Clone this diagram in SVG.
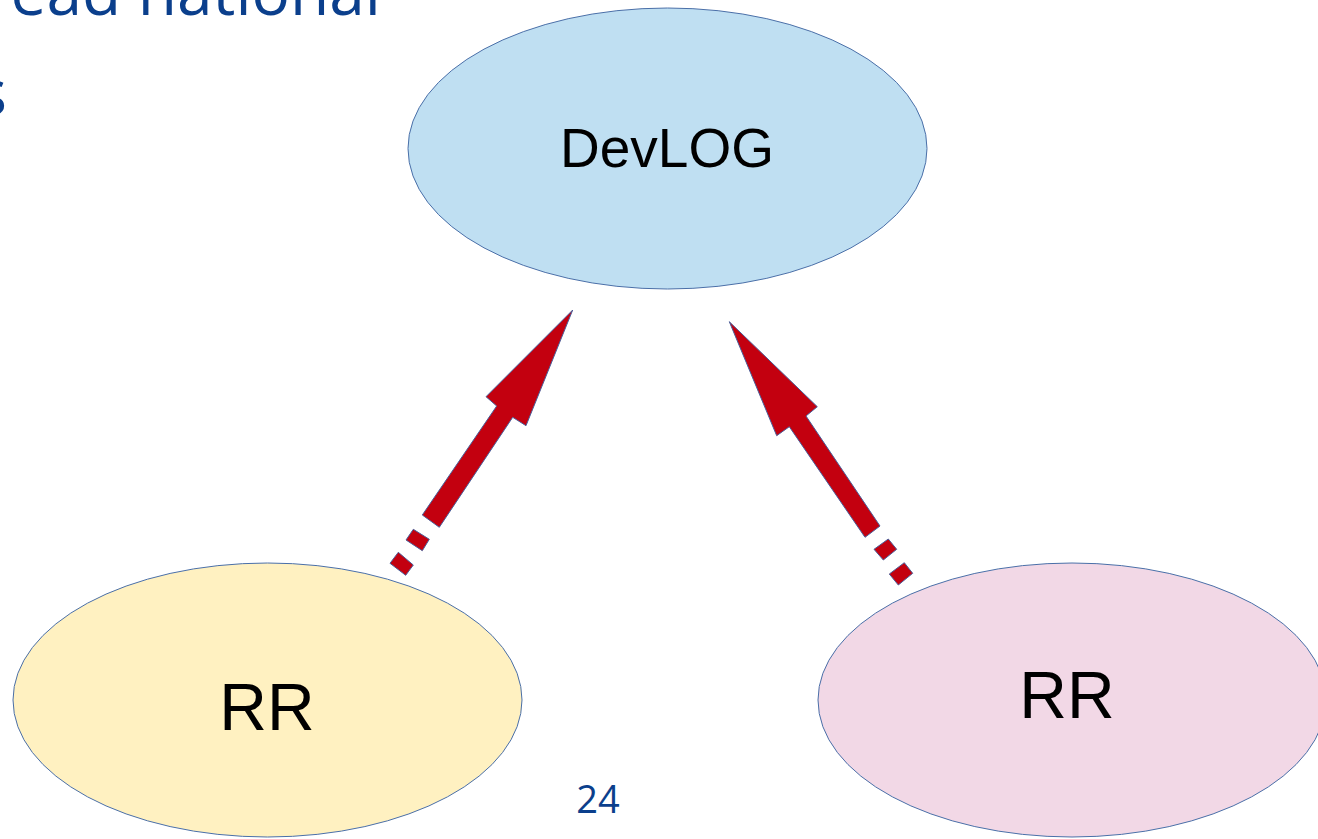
<svg xmlns="http://www.w3.org/2000/svg" width="1318" height="839" viewBox="0 0 1318 839">
<style>
.title{font-family:"Open Sans","DejaVu Sans",sans-serif;fill:#0b3f8c}
.lbl{font-family:"Liberation Sans",Arial,sans-serif;fill:#000;text-anchor:middle}
.node{stroke:#4a6fa8;stroke-width:1}
.arr{fill:#c3000f;stroke:#4a5f9a;stroke-width:1;stroke-linejoin:miter}
</style>
<rect width="1318" height="839" fill="#ffffff"/>
<text class="title" x="381" y="15" font-size="64" text-anchor="end">ead national</text>
<text class="title" x="7" y="115" font-size="64" text-anchor="end">s</text>
<g id="devlog">
<ellipse class="node" cx="667.5" cy="148.5" rx="259.5" ry="140.5" fill="#bfdff2"/>
<text class="lbl" x="667" y="167" font-size="55">DevLOG</text>
</g>
<g id="rr-left">
<ellipse class="node" cx="267.5" cy="700" rx="254.5" ry="137" fill="#fff1c1"/>
<text class="lbl" x="267" y="730" font-size="66">RR</text>
</g>
<g id="rr-right">
<ellipse class="node" cx="1072" cy="700" rx="254" ry="137" fill="#f2d8e6"/>
<text class="lbl" x="1067" y="718" font-size="66">RR</text>
</g>
<g id="connectors">
<polygon class="arr" points="572.7,310 526,425.7 512.7,417.3 439.3,527.3 422.3,515 496.7,406 486,396.7"/>
<polygon class="arr" points="413.3,529.3 429.3,539.3 422.3,550.7 406,540"/>
<polygon class="arr" points="398.3,552.3 413.3,565 405.7,575.3 390,563.3"/>
<polygon class="arr" points="729.3,321.7 817.3,406.7 806,416 880,526 865,537.3 789.3,426.7 776.7,435.7"/>
<polygon class="arr" points="888.3,539 896.7,549.3 883.3,560 874,549.3"/>
<polygon class="arr" points="904.3,562.7 912.7,573.3 898.3,585 889.3,574"/>
</g>
<text class="title" x="598" y="813" font-size="38" text-anchor="middle">24</text>
</svg>
